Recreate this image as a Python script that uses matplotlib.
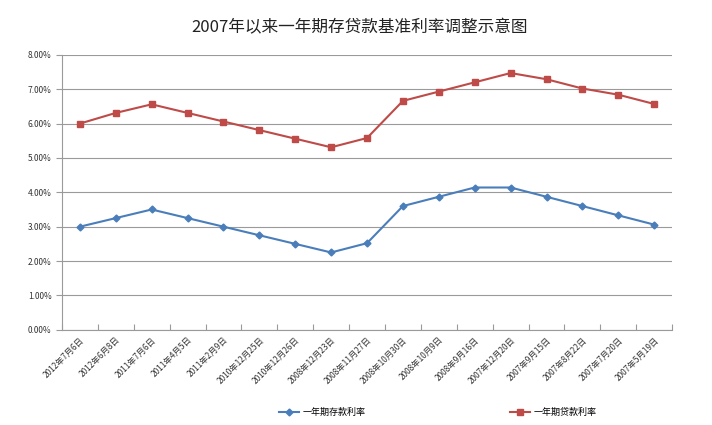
import matplotlib.pyplot as plt
from matplotlib.ticker import FuncFormatter, MultipleLocator

plt.rcParams['font.family'] = ['Noto Sans CJK SC', 'DejaVu Sans']

dates = ['2012年7月6日', '2012年6月8日', '2011年7月6日', '2011年4月5日', '2011年2月9日',
         '2010年12月25日', '2010年12月26日', '2008年12月23日', '2008年11月27日',
         '2008年10月30日', '2008年10月9日', '2008年9月16日', '2007年12月20日',
         '2007年9月15日', '2007年8月22日', '2007年7月20日', '2007年5月19日']
deposit = [3.00, 3.25, 3.50, 3.25, 3.00, 2.75, 2.50, 2.25, 2.52, 3.60, 3.87, 4.14,
           4.14, 3.87, 3.60, 3.33, 3.06]
loan = [6.00, 6.31, 6.56, 6.31, 6.06, 5.81, 5.56, 5.31, 5.58, 6.66, 6.93, 7.20,
        7.47, 7.29, 7.02, 6.84, 6.57]

fig = plt.figure(figsize=(7.12, 4.25), dpi=100)
ax = fig.add_axes([0.087, 0.224, 0.857, 0.647])

x = range(len(dates))
ax.plot(x, deposit, color='#4A7EBB', marker='D', markersize=3.5, linewidth=1.5,
        label='一年期存款利率')
ax.plot(x, loan, color='#BE4B48', marker='s', markersize=4.5, linewidth=1.5,
        label='一年期贷款利率')

ax.set_xlim(-0.5, len(dates) - 0.5)
ax.set_ylim(0, 8)
ax.yaxis.set_major_locator(MultipleLocator(1))
ax.yaxis.set_major_formatter(FuncFormatter(lambda v, p: '%.2f%%' % v))
ax.grid(axis='y', color='#9a9a9a', linewidth=0.8)
ax.set_axisbelow(True)

# category ticks sit between the points
ax.set_xticks([i - 0.5 for i in range(len(dates) + 1)])
ax.set_xticklabels([])
ax.set_xticks(list(x), minor=True)
ax.set_xticklabels(dates, minor=True, rotation=45, ha='right', rotation_mode='anchor',
                   fontsize=6, color='#333333')
ax.tick_params(axis='x', which='minor', length=0, pad=4)
ax.tick_params(axis='x', which='major', length=4, color='#9a9a9a', direction='in')
ax.tick_params(axis='y', labelsize=6, length=4, color='#9a9a9a', labelcolor='#333333')

for s in ['top', 'right']:
    ax.spines[s].set_visible(False)
ax.spines['left'].set_color('#9a9a9a')
ax.spines['bottom'].set_color('#9a9a9a')

fig.text(0.505, 0.925, '2007年以来一年期存贷款基准利率调整示意图', ha='center',
         fontsize=12, color='#222222')
fig.legend(loc='lower center', ncol=2, bbox_to_anchor=(0.615, 0.0), frameon=False,
           fontsize=6.5, columnspacing=16, handlelength=2.2, handletextpad=0.4)

fig.savefig('out.png', dpi=100)
